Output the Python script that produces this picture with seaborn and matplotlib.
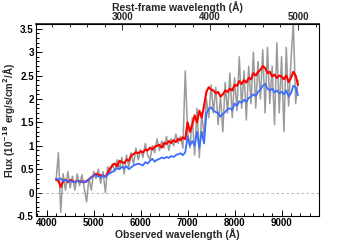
import numpy as np
import pandas as pd
import matplotlib
matplotlib.use("Agg")
import matplotlib.pyplot as plt
from matplotlib.ticker import MultipleLocator, FixedLocator
import seaborn as sns

# observed wavelength grid (Angstrom), 50 A steps
wave = np.arange(4200, 9351, 50)

# observed spectrum (grey, noisy)
flux_obs = [0.25, 0.85, -0.42, 0.40, 0.05, 0.45, 0.10, 0.35, 0.05, 0.40,
            0.15, 0.38, 0.10, -0.20, 0.30, 0.05, 0.45, 0.30, 0.50, 0.20,
            0.45, 0.00, 0.55, 0.40, 0.62, 0.45, 0.70, 0.50, 0.75, 0.40,
            0.80, 0.55, 0.85, 0.60, 0.95, 0.70, 0.92, 0.75, 1.05, 0.80,
            0.70, 1.00, 0.85, 1.15, 0.90, 1.10, 0.95, 1.20, 0.90, 1.15,
            1.00, 1.25, 1.05, 1.20, 0.95, 2.60, 1.30, 0.95, 1.60, 0.80,
            1.80, 0.75, 1.70, 1.20, 2.00, 1.60, 2.30, 1.70, 2.25, 1.45,
            2.05, 1.30, 2.35, 1.70, 2.55, 1.60, 2.45, 1.75, 2.90, 1.80,
            2.60, 1.55, 2.70, 1.90, 3.00, 1.80, 2.80, 2.00, 3.05, 1.70,
            3.10, 1.90, 2.70, 1.45, 3.20, 1.70, 2.90, 1.30, 3.10, 1.85,
            2.80, 3.65, 1.90, 2.40]

# model 1 (red)
flux_red = [0.28, 0.25, 0.12, 0.25, 0.28, 0.22, 0.27, 0.25, 0.22, 0.25,
            0.24, 0.24, 0.22, 0.25, 0.28, 0.33, 0.36, 0.40, 0.38, 0.37,
            0.36, 0.34, 0.42, 0.52, 0.58, 0.62, 0.56, 0.68, 0.65, 0.63,
            0.70, 0.68, 0.80, 0.82, 0.86, 0.84, 0.88, 0.86, 0.92, 0.90,
            0.96, 0.92, 0.98, 1.00, 1.02, 0.96, 1.06, 1.04, 1.10, 1.06,
            1.12, 1.08, 1.15, 1.12, 1.18, 1.14, 1.50, 1.30, 1.45, 1.65,
            1.50, 1.75, 1.60, 1.85, 2.15, 2.25, 2.20, 2.18, 2.12, 2.15,
            2.05, 2.10, 2.18, 2.15, 2.22, 2.18, 2.30, 2.28, 2.38, 2.32,
            2.40, 2.35, 2.45, 2.42, 2.55, 2.50, 2.58, 2.62, 2.70, 2.66,
            2.55, 2.58, 2.48, 2.52, 2.45, 2.50, 2.48, 2.42, 2.50, 2.36,
            2.45, 2.58, 2.50, 2.30]

# model 2 (blue)
flux_blue = [0.30, 0.28, 0.30, 0.25, 0.27, 0.24, 0.25, 0.23, 0.22, 0.25,
             0.23, 0.22, 0.24, 0.23, 0.28, 0.32, 0.37, 0.36, 0.35, 0.32,
             0.37, 0.33, 0.38, 0.42, 0.44, 0.48, 0.52, 0.50, 0.55, 0.52,
             0.56, 0.50, 0.54, 0.58, 0.60, 0.62, 0.60, 0.58, 0.65, 0.62,
             0.68, 0.72, 0.66, 0.70, 0.72, 0.75, 0.73, 0.76, 0.74, 0.78,
             0.76, 0.80, 0.82, 0.84, 0.80, 0.86, 1.20, 1.00, 1.10, 1.00,
             1.30, 0.95, 1.30, 1.05, 1.70, 1.78, 1.82, 1.75, 1.72, 1.70,
             1.62, 1.68, 1.72, 1.78, 1.80, 1.76, 1.90, 1.85, 1.95, 1.92,
             1.98, 1.94, 2.02, 2.05, 2.10, 2.06, 2.15, 2.20, 2.28, 2.32,
             2.22, 2.18, 2.22, 2.14, 2.18, 2.12, 2.15, 2.10, 2.18, 2.05,
             2.12, 2.28, 2.25, 2.08]

redshift = 0.87
rest_ticks = [3000, 4000, 5000]

df = pd.DataFrame({"wave": wave, "obs": flux_obs, "red": flux_red, "blue": flux_blue})

sns.set_theme(style="ticks")
plt.rcParams["font.family"] = ["Liberation Sans", "DejaVu Sans"]
plt.rcParams["font.weight"] = "bold"
plt.rcParams["mathtext.default"] = "bf"

fig = plt.figure(figsize=(3.55, 2.4), dpi=100)
ax = fig.add_axes([0.101, 0.10, 0.798, 0.80])

ax.axhline(0, color="#aaaaaa", lw=0.6, ls=(0, (3, 3)))
sns.lineplot(data=df, x="wave", y="obs", color="#8f8f8f", lw=1.1, alpha=0.9, ax=ax)
sns.lineplot(data=df, x="wave", y="red", color="#ff0000", lw=1.5, ax=ax)
sns.lineplot(data=df, x="wave", y="blue", color="#3a6cff", lw=1.3, ax=ax)

ax.set_xlim(3770, 9800)
ax.set_ylim(-0.5, 3.6)
ax.xaxis.set_major_locator(MultipleLocator(1000))
ax.xaxis.set_minor_locator(MultipleLocator(200))
ax.yaxis.set_major_locator(MultipleLocator(0.5))
ax.yaxis.set_minor_locator(MultipleLocator(0.1))
ax.yaxis.set_major_formatter(plt.FuncFormatter(lambda v, p: f"{v:g}"))
ax.tick_params(which="both", direction="in", top=False, right=False,
               labelsize=7, width=0.7, colors="black", pad=1.5)
ax.tick_params(which="major", length=4)
ax.tick_params(which="minor", length=2)

ax.set_xlabel("Observed wavelength (Å)", fontsize=7.5, fontweight="bold", labelpad=0)
ax.set_ylabel("Flux (10$^{-18}$ erg/s/cm$^2$/Å)", fontsize=7, fontweight="bold", labelpad=0)

top = ax.secondary_xaxis("top", functions=(lambda w: w / (1 + redshift),
                                           lambda r: r * (1 + redshift)))
top.xaxis.set_major_locator(FixedLocator(rest_ticks))
top.xaxis.set_minor_locator(MultipleLocator(200))
top.tick_params(which="both", direction="in", labelsize=7, width=0.7, pad=1.5)
top.tick_params(which="major", length=4)
top.tick_params(which="minor", length=2)
top.set_xlabel("Rest-frame wavelength (Å)", fontsize=7.5, fontweight="bold", labelpad=1)

for s in ax.spines.values():
    s.set_linewidth(0.8)
    s.set_color("black")

fig.savefig("out.png", dpi=100)
